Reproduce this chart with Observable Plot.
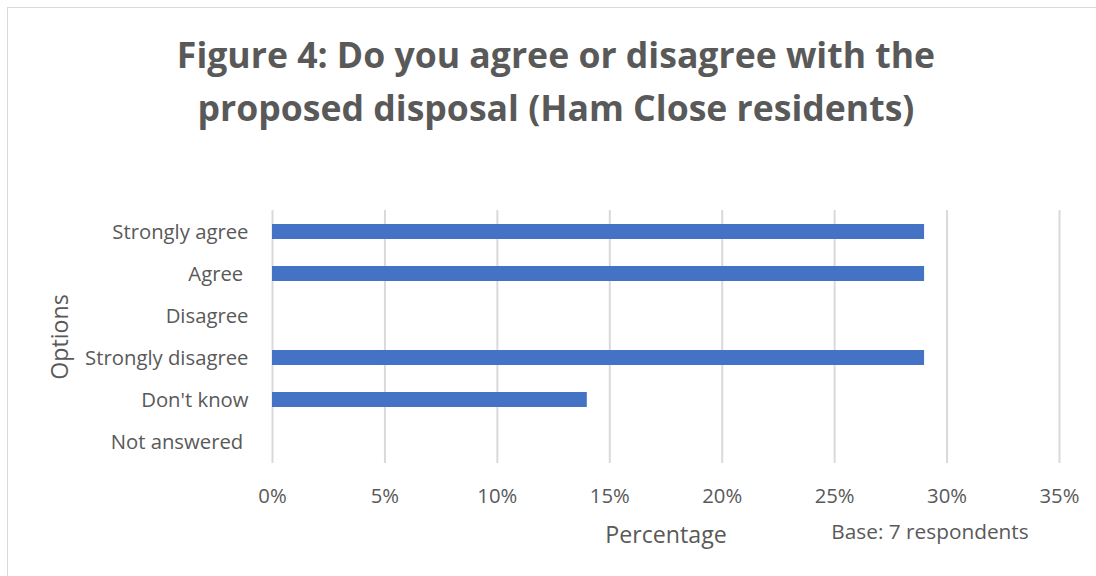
<!DOCTYPE html>
<html><head><meta charset="utf-8">
<script src="https://cdn.jsdelivr.net/npm/d3@7"></script>
<script src="https://cdn.jsdelivr.net/npm/@observablehq/plot@0.6"></script>
<style>
body{margin:0;background:#fff;}
#frame{position:relative;width:1096px;height:576px;overflow:hidden;font-family:"Open Sans",sans-serif;color:#595959;}
#border{position:absolute;left:7px;top:7px;width:1200px;height:700px;border-left:1px solid #d9d9d9;border-top:1px solid #d9d9d9;}
#title{position:absolute;left:16px;top:28px;width:1080px;text-align:center;font-weight:bold;font-size:35.6px;line-height:53px;}
#chart{position:absolute;left:0;top:150px;}
</style></head>
<body><div id="frame"><div id="border"></div><div id="title">Figure 4: Do you agree or disagree with the<br>proposed disposal (Ham Close residents)</div><div id="chart"></div></div>
<script>
const options = ["Strongly agree", "Agree\u00a0", "Disagree", "Strongly disagree", "Don't know", "Not answered\u00a0"];
const percentages = [29, 29, 0, 29, 14, 0];
const xTicks = [0, 5, 10, 15, 20, 25, 30, 35];
const xTitle = "Percentage";
const yTitle = "Options";
const baseNote = "Base: 7 respondents";

const data = options.map((o, i) => ({option: o, pct: percentages[i]}));
const plot = Plot.plot({
  width: 1096, height: 426,
  marginLeft: 272, marginRight: 37, marginTop: 60, marginBottom: 113,
  style: {fontFamily: '"Open Sans", sans-serif', fontSize: "20px", color: "#595959", background: "transparent", overflow: "visible"},
  x: {domain: [0, 35], label: null},
  y: {domain: options, label: null, paddingInner: 0.644, paddingOuter: 0.322},
  marks: [
    Plot.gridX(xTicks, {stroke: "#d9d9d9", strokeOpacity: 1, strokeWidth: 2}),
    Plot.barX(data, {x: "pct", y: "option", fill: "#4472c4"}),
    Plot.axisX({ticks: xTicks, tickFormat: d => d + "%", tickSize: 0, tickPadding: 25, label: null, fontSize: 20.3}),
    Plot.axisY({tickSize: 0, tickPadding: 24, label: null, fontSize: 20.3}),
    Plot.text([xTitle], {text: d => d, frameAnchor: "bottom", dy: 72, fontSize: 23.2, lineAnchor: "middle"}),
    Plot.text([baseNote], {text: d => d, frameAnchor: "bottom", dx: 264, dy: 69, fontSize: 20.8, lineAnchor: "middle"}),
    Plot.text([yTitle], {text: d => d, frameAnchor: "left", dx: -212, rotate: -90, fontSize: 23.2, textAnchor: "middle", lineAnchor: "middle"})
  ]
});
document.getElementById("chart").appendChild(plot);
</script>
</body></html>
